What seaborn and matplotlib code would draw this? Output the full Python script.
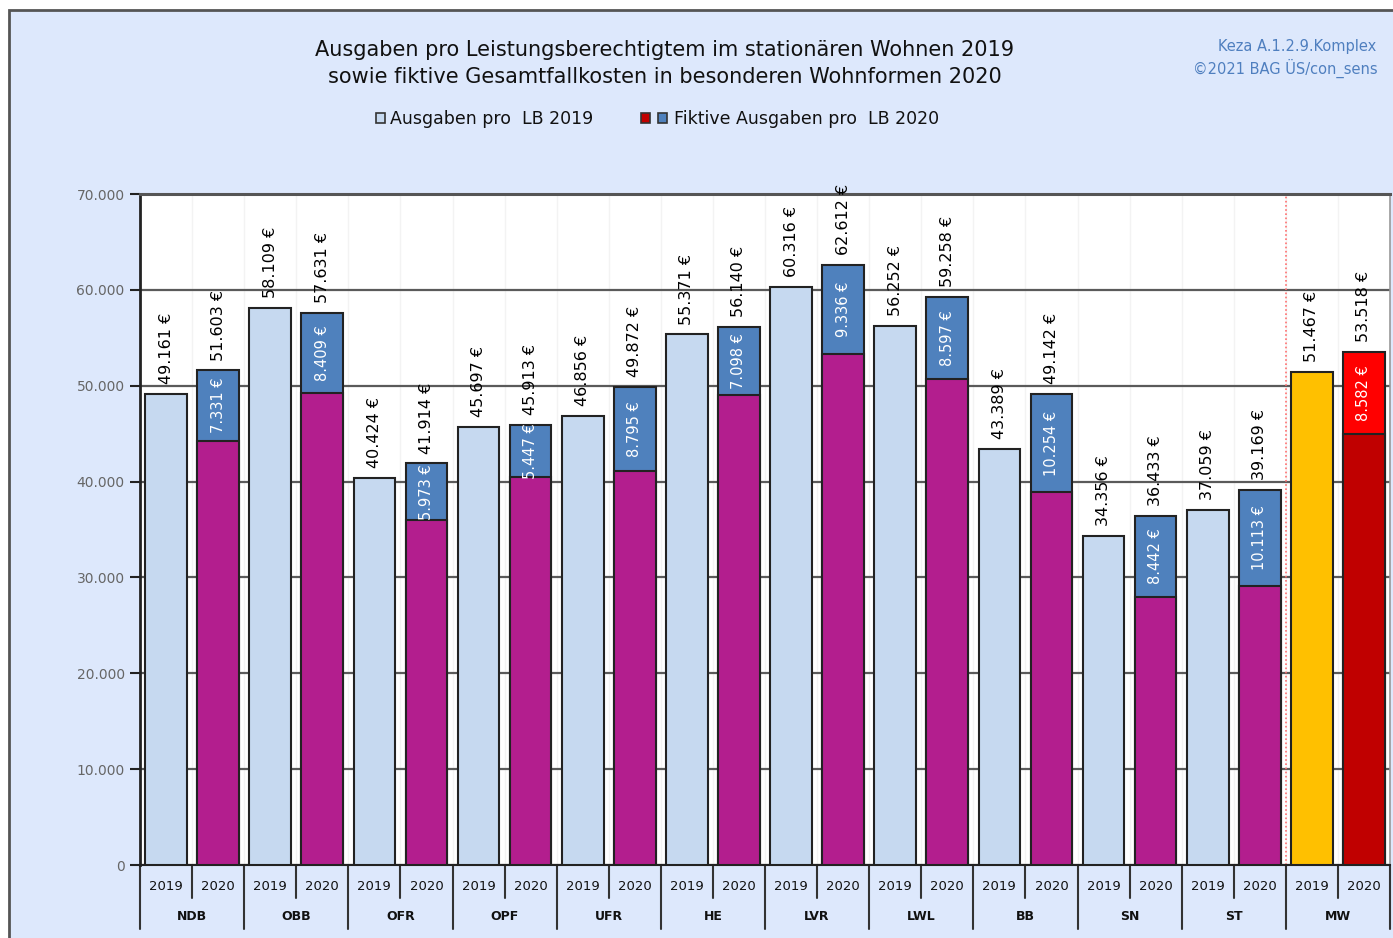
import numpy as np
import pandas as pd
import matplotlib
matplotlib.use("Agg")
import matplotlib.pyplot as plt
import matplotlib.transforms as mtransforms
from matplotlib.patches import Rectangle
from matplotlib.ticker import FuncFormatter
import seaborn as sns

# ---------------- data ----------------
regions = ["NDB", "OBB", "OFR", "OPF", "UFR", "HE", "LVR", "LWL", "BB", "SN", "ST", "MW"]
years = ["2019", "2020"]
total_2019 = [49161, 58109, 40424, 45697, 46856, 55371, 60316, 56252, 43389, 34356, 37059, 51467]
total_2020 = [51603, 57631, 41914, 45913, 49872, 56140, 62612, 59258, 49142, 36433, 39169, 53518]
fiktiv_2020 = [7331, 8409, 5973, 5447, 8795, 7098, 9336, 8597, 10254, 8442, 10113, 8582]
y_ticks = [0, 10000, 20000, 30000, 40000, 50000, 60000, 70000]

title_line1 = "Ausgaben pro Leistungsberechtigtem im stationären Wohnen 2019"
title_line2 = "sowie fiktive Gesamtfallkosten in besonderen Wohnformen 2020"
legend_2019 = "Ausgaben pro  LB 2019"
legend_2020 = "Fiktive Ausgaben pro  LB 2020"
source_line1 = "Keza A.1.2.9.Komplex"
source_line2 = "©2021 BAG ÜS/con_sens"

# colours
c_2019 = "#c6d9f0"
c_2020_top = "#4f81bd"
c_2020_base = "#b31e8e"
c_mw_2019 = "#ffc000"
c_mw_top = "#ff0000"
c_mw_base = "#c00000"
c_bg = "#dde8fc"

# ---------------- table ----------------
rows = []
for i, r in enumerate(regions):
    rows.append(dict(region=r, year="2019", slot=f"{r} 2019", total=total_2019[i],
                     base=np.nan, top=np.nan))
    rows.append(dict(region=r, year="2020", slot=f"{r} 2020", total=total_2020[i],
                     base=total_2020[i] - fiktiv_2020[i], top=fiktiv_2020[i]))
df = pd.DataFrame(rows)
slots = list(df["slot"])

pal_total = {}
pal_base = {}
for s in slots:
    r, y = s.split()
    if r == "MW":
        pal_total[s] = c_mw_2019 if y == "2019" else c_mw_top
        pal_base[s] = c_mw_base
    else:
        pal_total[s] = c_2019 if y == "2019" else c_2020_top
        pal_base[s] = c_2020_base

# ---------------- figure ----------------
W, H = 1393, 938
sns.set_style("white")
plt.rcParams["font.family"] = ["DejaVu Sans"]

fig = plt.figure(figsize=(W / 100, H / 100), dpi=100, facecolor="white")


def fx(x):
    return x / W


def fy(y):
    return 1 - y / H


# outer chart frame (light blue, cut at right and bottom)
fig.patches.append(Rectangle((fx(9), -0.05), 1.2, fy(10) + 0.05, transform=fig.transFigure,
                             facecolor=c_bg, edgecolor="#555555", linewidth=2, zorder=-5))

ax = fig.add_axes([fx(140), fy(865), fx(1390) - fx(140), fy(194) - fy(865)])
ax.set_zorder(3)
ax.set_facecolor("white")

sns.barplot(data=df, x="slot", y="total", hue="slot", order=slots, hue_order=slots,
            palette=pal_total, saturation=1, width=0.8, edgecolor="#222222", linewidth=1.5,
            errorbar=None, legend=False, ax=ax, zorder=3)
df20 = df[df["year"] == "2020"]
sns.barplot(data=df20, x="slot", y="base", hue="slot", order=slots, hue_order=slots,
            palette=pal_base, saturation=1, width=0.8, edgecolor="#222222", linewidth=1.5,
            errorbar=None, legend=False, ax=ax, zorder=4)

ax.set_xlim(-0.5, len(slots) - 0.5)
ax.set_ylim(0, 70000)
ax.set_xlabel("")
ax.set_ylabel("")
ax.set_yticks(y_ticks)
ax.yaxis.set_major_formatter(FuncFormatter(lambda v, p: f"{int(v):,}".replace(",", ".")))
ax.tick_params(axis="y", labelsize=10, labelcolor="#666666", length=7, width=1.5,
               color="#222222", direction="out", left=True, pad=4)
ax.set_xticks(np.arange(0.5, len(slots) - 1, 1), minor=True)
ax.set_xticks([])
ax.tick_params(axis="x", which="both", length=0, labelbottom=False)
ax.yaxis.grid(True, color="#5a5a5a", linewidth=1.6, zorder=0)
ax.xaxis.grid(True, which="minor", color="#f3f3f3", linewidth=1)
ax.set_axisbelow(True)
for side, col, lw in [("left", "#222222", 2), ("bottom", "#222222", 1.5),
                      ("top", "#555555", 2.2), ("right", "#999999", 1.2)]:
    ax.spines[side].set_visible(True)
    ax.spines[side].set_color(col)
    ax.spines[side].set_linewidth(lw)

# red dotted separator before MW
ax.axvline(len(slots) - 2.5, color="#ff7070", linestyle=(0, (1, 1.5)), linewidth=1.2, zorder=2)


def fmt(v):
    return f"{int(v):,}".replace(",", ".") + " €"


# value labels
for i, row in df.iterrows():
    ax.annotate(fmt(row["total"]), (i, row["total"]), xytext=(0, 7), textcoords="offset points",
                rotation=90, ha="center", va="bottom", fontsize=11.5, color="black", zorder=6)
    if row["year"] == "2020":
        ax.text(i, row["base"] + row["top"] / 2, fmt(row["top"]), rotation=90, ha="center",
                va="center", fontsize=10.5, color="white", zorder=6)

# two-level x axis
trans = mtransforms.blended_transform_factory(ax.transData, fig.transFigure)
for i, s in enumerate(slots):
    ax.text(i, fy(886), s.split()[1], transform=trans, ha="center", va="center",
            fontsize=9.5, color="#111111")
for k, r in enumerate(regions):
    ax.text(2 * k + 0.5, fy(916), r, transform=trans, ha="center", va="center",
            fontsize=9, fontweight="bold", color="#111111")
    ax.plot([2 * k + 0.5, 2 * k + 0.5], [fy(866), fy(898)], transform=trans, clip_on=False,
            color="#333333", linewidth=1.5)
for k in range(len(regions) + 1):
    ax.plot([2 * k - 0.5, 2 * k - 0.5], [fy(866), fy(929)], transform=trans, clip_on=False,
            color="#333333", linewidth=1.5)

# title
fig.text(fx(665), fy(50), title_line1, ha="center", va="center", fontsize=15, color="#111111")
fig.text(fx(665), fy(77), title_line2, ha="center", va="center", fontsize=15, color="#111111")

# legend
fig.patches.append(Rectangle((fx(376), fy(123)), 9 / W, 10 / H, transform=fig.transFigure,
                             facecolor=c_2019, edgecolor="#333333", linewidth=1.2))
fig.text(fx(390), fy(119), legend_2019, ha="left", va="center", fontsize=12.5, color="#111111")
fig.patches.append(Rectangle((fx(641), fy(123)), 9 / W, 10 / H, transform=fig.transFigure,
                             facecolor=c_mw_base, edgecolor="#333333", linewidth=1.2))
fig.patches.append(Rectangle((fx(658), fy(123)), 9 / W, 10 / H, transform=fig.transFigure,
                             facecolor=c_2020_top, edgecolor="#333333", linewidth=1.2))
fig.text(fx(674), fy(119), legend_2020, ha="left", va="center", fontsize=12.5, color="#111111")

# source note
fig.text(fx(1218), fy(47), source_line1, ha="left", va="center", fontsize=10.5, color="#4f7fbf")
fig.text(fx(1193), fy(68), source_line2, ha="left", va="center", fontsize=10.5, color="#4f7fbf")

fig.savefig("out.png", dpi=100, facecolor=fig.get_facecolor())
